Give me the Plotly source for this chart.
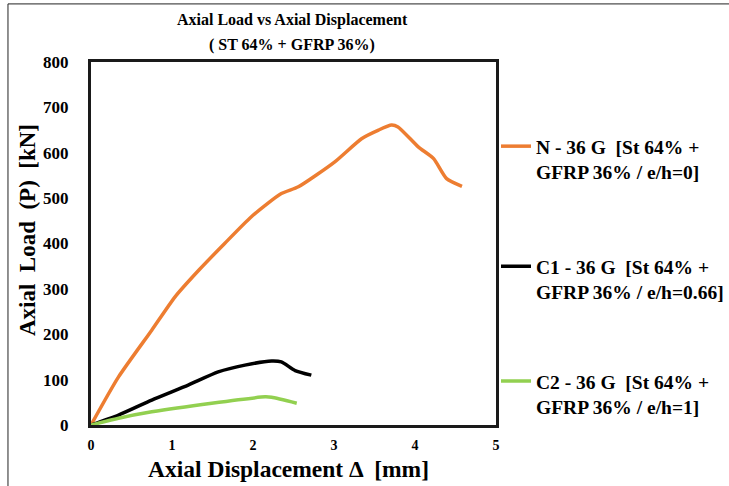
import plotly.graph_objects as go

# ---- data ----
n_x = [0, 0.34, 0.75, 1.04, 1.33, 1.65, 1.98, 2.35, 2.56, 3.01, 3.34, 3.55, 3.71, 3.79, 4.04, 4.23, 4.39, 4.58]
n_y = [0, 106, 209, 283, 341, 400, 459, 510, 525, 580, 631, 650, 661, 657, 613, 587, 543, 526]

c1_x = [0, 0.34, 0.75, 1.2, 1.57, 1.9, 2.23, 2.35, 2.52, 2.72]
c1_y = [0, 22, 55, 88, 117, 132, 141, 139, 120, 110]

c2_x = [0, 0.34, 0.75, 1.49, 2.15, 2.23, 2.54]
c2_y = [0, 15, 29, 48, 62, 61, 48]

names = [
    "<b>N - 36 G  [St 64% +</b><br><b>GFRP 36% / e/h=0]</b>",
    "<b>C1 - 36 G  [St 64% +</b><br><b>GFRP 36% / e/h=0.66]</b>",
    "<b>C2 - 36 G  [St 64% +</b><br><b>GFRP 36% / e/h=1]</b>",
]
colors = ["#ED7D31", "#000000", "#92D050"]

title_lines = ["Axial Load vs Axial Displacement", "( ST 64% + GFRP 36%)"]
x_title = "Axial Displacement Δ  [mm]"
y_title = "Axial  Load  (P)  [kN]"

SERIF = "Liberation Serif"

fig = go.Figure()
series = [(n_x, n_y), (c1_x, c1_y), (c2_x, c2_y)]
legends = ["legend", "legend2", "legend3"]
for (xs, ys), nm, col, lg in zip(series, names, colors, legends):
    fig.add_trace(go.Scatter(x=xs, y=ys, mode="lines", name=nm, showlegend=True,
                             line=dict(color=col, width=3.5, shape="spline", smoothing=0.6),
                             legend=lg))

legend_common = dict(font=dict(family=SERIF, size=19.5, color="#000"), valign="top",
                     bgcolor="rgba(0,0,0,0)", xanchor="left", yanchor="top",
                     itemwidth=30)

annotations = [
    dict(text="<b>" + title_lines[0] + "</b>", xref="paper", yref="paper", x=0.497, y=1.1157,
         xanchor="center", yanchor="middle", showarrow=False,
         font=dict(family=SERIF, size=16, color="#000")),
    dict(text="<b>" + title_lines[1] + "</b>", xref="paper", yref="paper", x=0.497, y=1.0468,
         xanchor="center", yanchor="middle", showarrow=False,
         font=dict(family=SERIF, size=16, color="#000")),
    dict(text="<b>" + x_title + "</b>", xref="paper", yref="paper", x=0.487, y=-0.12,
         xanchor="center", yanchor="middle", showarrow=False,
         font=dict(family=SERIF, size=23.5, color="#000")),
    dict(text="<b>" + y_title + "</b>", xref="paper", yref="paper", x=-0.158, y=0.537,
         xanchor="center", yanchor="middle", showarrow=False, textangle=-90,
         font=dict(family=SERIF, size=23, color="#000")),
]

fig.update_layout(
    width=729, height=486,
    margin=dict(l=91, r=233, t=62, b=61, autoexpand=False),
    paper_bgcolor="white", plot_bgcolor="white",
    xaxis=dict(range=[0, 5], dtick=1, showgrid=False, zeroline=False,
               showline=True, mirror=True, linecolor="#1a1a1a", linewidth=3,
               ticks="", ticklabelstandoff=5,
               tickfont=dict(family=SERIF, size=14, color="#000"),
               tickprefix="<b>", ticksuffix="</b>"),
    yaxis=dict(range=[0, 800], dtick=100, showgrid=False, zeroline=False,
               showline=True, mirror=True, linecolor="#1a1a1a", linewidth=3,
               ticks="", ticklabelstandoff=16,
               tickfont=dict(family=SERIF, size=17, color="#000"),
               tickprefix="<b>", ticksuffix="</b>"),
    legend=dict(x=1.0, y=0.821, **legend_common),
    legend2=dict(x=1.0, y=0.49, **legend_common),
    legend3=dict(x=1.0, y=0.174, **legend_common),
    annotations=annotations,
    shapes=[
        dict(type="line", xref="paper", yref="paper", x0=-0.205, x1=-0.205, y0=1.16, y1=-0.17,
             line=dict(color="#222", width=1)),
        dict(type="line", xref="paper", yref="paper", x0=-0.205, x1=1.6, y0=1.160, y1=1.160,
             line=dict(color="#222", width=1)),
    ],
)

fig.write_html("out.html")
